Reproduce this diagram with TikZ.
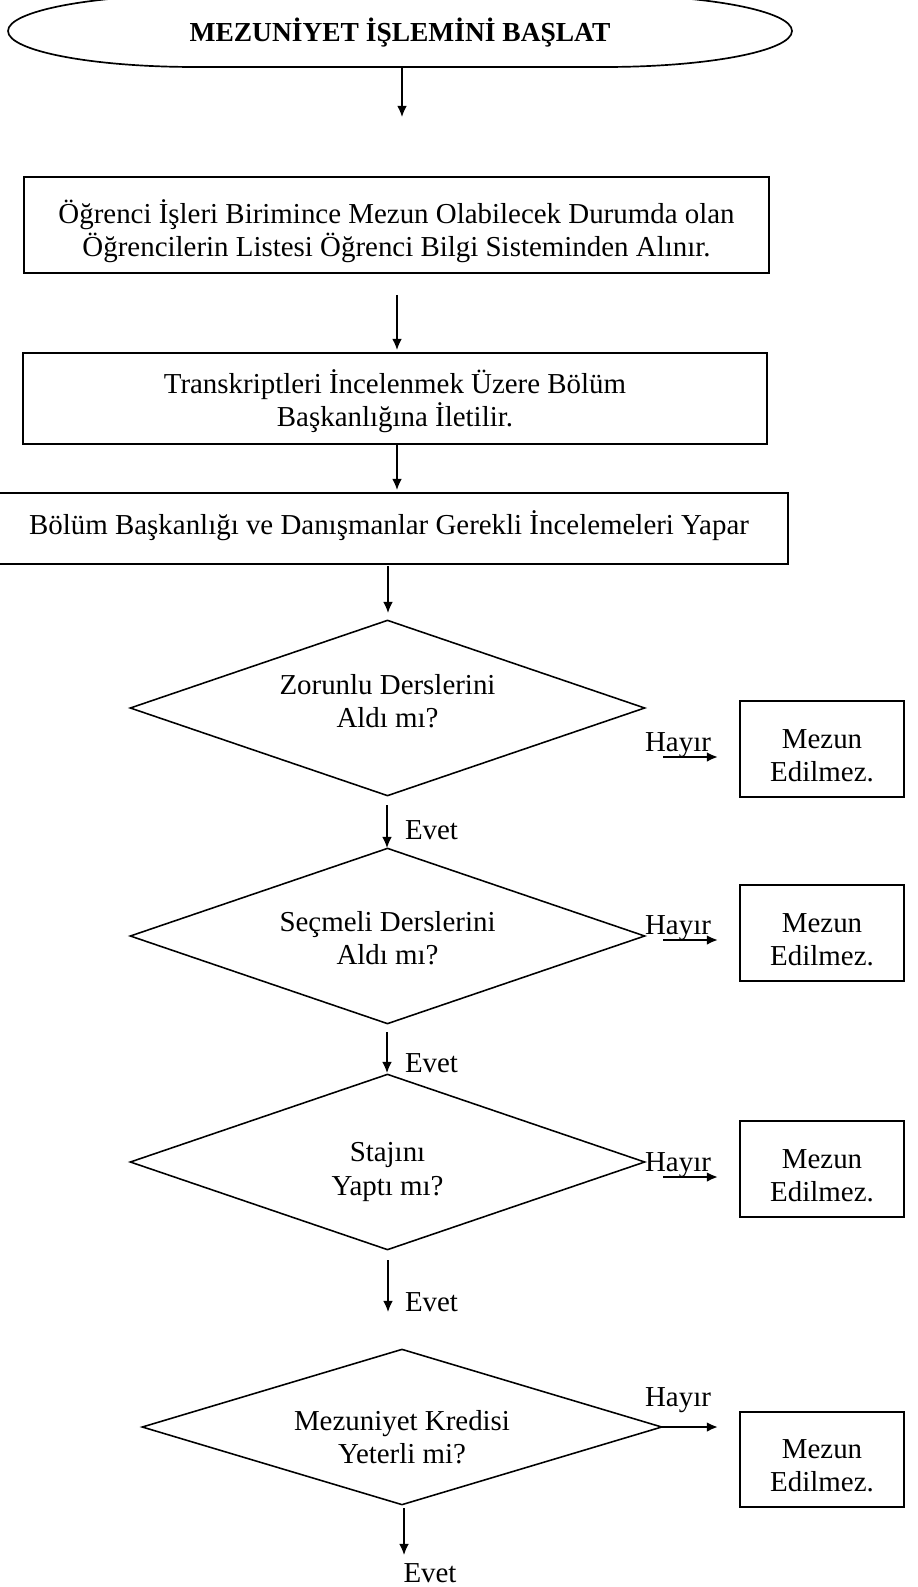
\documentclass[tikz,border=0pt]{standalone}
\usepackage{fontspec}
\setmainfont{Liberation Serif}
\usetikzlibrary{arrows.meta,shapes.geometric}

\begin{document}
\begin{tikzpicture}[x=0.415pt,y=-0.415pt,
  box/.style={draw,line width=0.75pt,inner sep=0pt},
  decision/.style={draw,diamond,line width=0.65pt,inner sep=0pt},
  txt/.style={align=center,inner sep=0pt,font=\fontsize{12}{13.8}\selectfont},
  flow/.style={line width=0.55pt,-{Latex[length=4.6pt,width=4pt]}},
  side/.style={line width=0.9pt,-{Latex[length=4.6pt,width=4pt]}}]
\useasboundingbox (0,0) rectangle (917,1587);

% start terminal
\node[inner sep=0pt,font=\fontsize{11.4}{13}\selectfont\bfseries] (start) at (400,33) {MEZUNİYET İŞLEMİNİ BAŞLAT};
\draw[line width=0.7pt] (195,-5) -- (605,-5)
  .. controls (708.3,-5) and (792,11.1) .. (792,31)
  .. controls (792,50.9) and (708.3,67) .. (605,67) -- (195,67)
  .. controls (91.7,67) and (8,50.9) .. (8,31)
  .. controls (8,11.1) and (91.7,-5) .. cycle;

% process boxes
\node[box,minimum width=309.2pt,minimum height=39.8pt] (b1) at (396.5,225) {};
\node[txt] (b1t) at (396.5,231.5) {Öğrenci İşleri Birimince Mezun Olabilecek Durumda olan\\Öğrencilerin Listesi Öğrenci Bilgi Sisteminden Alınır.};

\node[box,minimum width=308.8pt,minimum height=37.8pt] (b2) at (395,398.5) {};
\node[txt] (b2t) at (395,401.5) {Transkriptleri İncelenmek Üzere Bölüm\\Başkanlığına İletilir.};

\node[box,minimum width=329.1pt,minimum height=29.5pt] (b3) at (391.5,528.5) {};
\node[txt] (b3t) at (389,526) {Bölüm Başkanlığı ve Danışmanlar Gerekli İncelemeleri Yapar};

% decisions
\node[decision,minimum width=213.7pt,minimum height=73pt] (d1) at (387.5,708) {};
\node[txt] (d1t) at (387.5,701.5) {Zorunlu Derslerini\\Aldı mı?};
\node[decision,minimum width=213.7pt,minimum height=73pt] (d2) at (387.5,936) {};
\node[txt] (d2t) at (387.5,938.5) {Seçmeli Derslerini\\Aldı mı?};
\node[decision,minimum width=213.7pt,minimum height=73pt] (d3) at (387.5,1162) {};
\node[txt] (d3t) at (387.5,1172) {Stajını\\Yaptı mı?};
\node[decision,minimum width=215.8pt,minimum height=64.7pt] (d4) at (402,1427) {};
\node[txt] (d4t) at (402,1437) {Mezuniyet Kredisi\\Yeterli mi?};

% rejection boxes
\node[box,minimum width=68.1pt,minimum height=39.8pt] (m1) at (822,749) {};
\node[txt] (m1t) at (822,756) {Mezun\\Edilmez.};
\node[box,minimum width=68.1pt,minimum height=39.8pt] (m2) at (822,933) {};
\node[txt] (m2t) at (822,940) {Mezun\\Edilmez.};
\node[box,minimum width=68.1pt,minimum height=39.8pt] (m3) at (822,1169) {};
\node[txt] (m3t) at (822,1176) {Mezun\\Edilmez.};
\node[box,minimum width=68.1pt,minimum height=39.4pt] (m4) at (822,1459.5) {};
\node[txt] (m4t) at (822,1466) {Mezun\\Edilmez.};

% branch labels
\node[txt] (h1) at (678,745) {Hayır};
\node[txt] (h2) at (678,928) {Hayır};
\node[txt] (h3) at (678,1165) {Hayır};
\node[txt] (h4) at (678,1400) {Hayır};
\node[txt] (e1) at (431.5,830) {Evet};
\node[txt] (e2) at (431.5,1063) {Evet};
\node[txt] (e3) at (431.5,1302) {Evet};
\node[txt] (e4) at (430,1573) {Evet};

% arrow end points
\coordinate (a1s) at (402,68);   \coordinate (a1e) at (402,117);
\coordinate (a2s) at (397,295);  \coordinate (a2e) at (397,350);
\coordinate (a3s) at (397,445);  \coordinate (a3e) at (397,490);
\coordinate (a4s) at (388,566);  \coordinate (a4e) at (388,613);
\coordinate (a5s) at (387,805);  \coordinate (a5e) at (387,848);
\coordinate (a6s) at (387,1032); \coordinate (a6e) at (387,1073);
\coordinate (a7s) at (388,1260); \coordinate (a7e) at (388,1312);
\coordinate (a8s) at (404,1508); \coordinate (a8e) at (404,1555);
\coordinate (n1s) at (663,757);  \coordinate (n1e) at (718,757);
\coordinate (n2s) at (663,940);  \coordinate (n2e) at (718,940);
\coordinate (n3s) at (663,1177); \coordinate (n3e) at (718,1177);
\coordinate (n4s) at (662,1427); \coordinate (n4e) at (718,1427);

\draw[flow] (a1s) -- (a1e);
\draw[flow] (a2s) -- (a2e);
\draw[flow] (a3s) -- (a3e);
\draw[flow] (a4s) -- (a4e);
\draw[flow] (a5s) -- (a5e);
\draw[flow] (a6s) -- (a6e);
\draw[flow] (a7s) -- (a7e);
\draw[flow] (a8s) -- (a8e);
\draw[side] (n1s) -- (n1e);
\draw[side] (n2s) -- (n2e);
\draw[side] (n3s) -- (n3e);
\draw[side] (n4s) -- (n4e);
\end{tikzpicture}
\end{document}
